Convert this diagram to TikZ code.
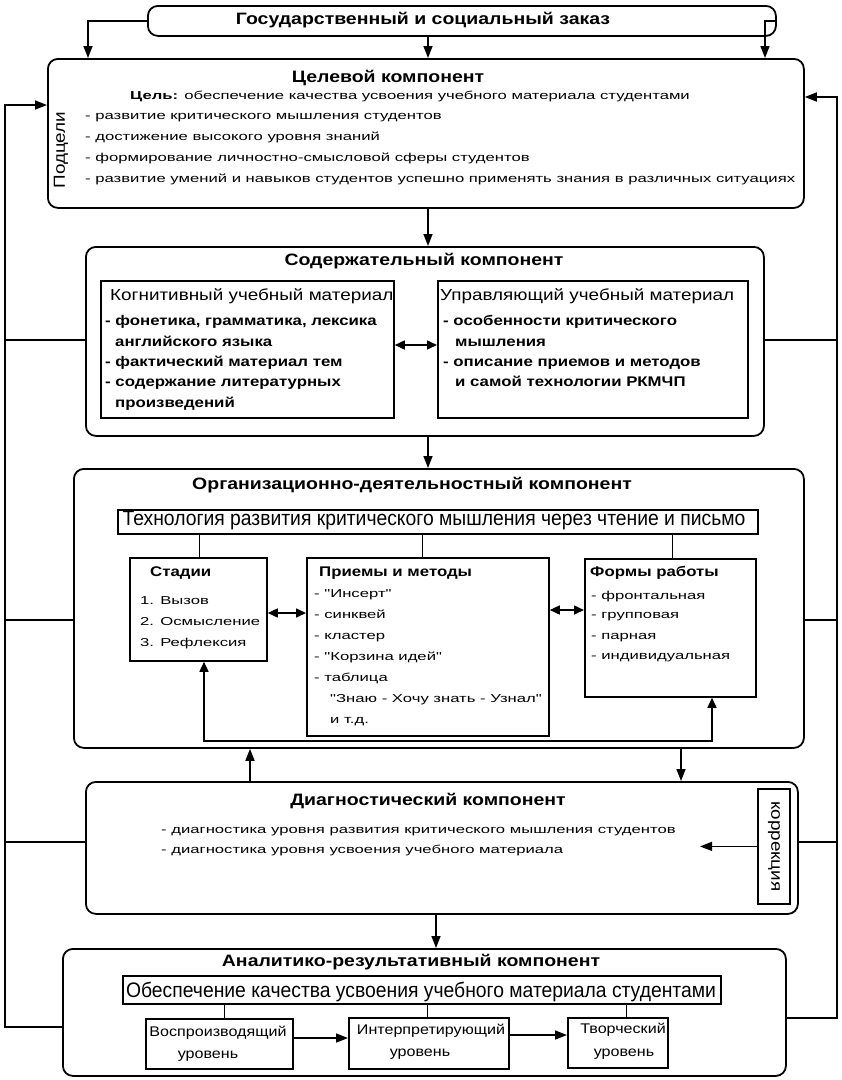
\documentclass[tikz,border=0pt]{standalone}
\usepackage{fontspec}
\setmainfont{Liberation Sans}
\newfontfamily\fBody{Liberation Sans}[FakeStretch=1.45, Ligatures=TeXOff]
\newfontfamily\fBold{Liberation Sans}[FakeStretch=1.2, Ligatures=TeXOff]
\newfontfamily\fHead{Liberation Sans}[FakeStretch=1.18, Ligatures=TeXOff]
\newfontfamily\fTall{Liberation Sans}[FakeStretch=0.92, Ligatures=TeXOff]
\newfontfamily\fLev{Liberation Sans}[FakeStretch=1.15, Ligatures=TeXOff]
\usetikzlibrary{arrows.meta,calc}
\newcommand{\sBody}{\fBody\fontsize{11.5}{14}\selectfont}
\newcommand{\sBold}{\fBold\fontsize{14}{17}\selectfont\bfseries}
\newcommand{\sTitle}{\fHead\fontsize{16.5}{20}\selectfont\bfseries}
\newcommand{\sHead}{\fHead\fontsize{16}{19}\selectfont}
\newcommand{\sTall}{\fTall\fontsize{21}{24}\selectfont}
\newcommand{\sLev}{\fLev\fontsize{14}{17}\selectfont}
\tikzset{
  comp/.style={draw, line width=1.8pt, rounded corners=10pt, anchor=north west, inner sep=0pt},
  ibox/.style={draw, line width=1.8pt, anchor=north west, inner sep=0pt},
  thinl/.style={line width=1pt},
  fb/.style={line width=1.6pt},
  arr/.style={-{Triangle[length=12pt,width=9pt]}, line width=1.6pt},
  darr/.style={{Triangle[length=10pt,width=9pt]}-{Triangle[length=10pt,width=9pt]}, line width=1.6pt},
  txt/.style={anchor=base west, inner sep=0pt, font=\sBody},
  btxt/.style={anchor=base west, inner sep=0pt, font=\sBold},
  htxt/.style={anchor=base west, inner sep=0pt, font=\sHead},
  ttl/.style={anchor=base, inner sep=0pt, font=\sTitle},
  ltxt/.style={anchor=base, inner sep=0pt, font=\sLev},
}
\begin{document}
\begin{tikzpicture}[x=1pt,y=-1pt]
\useasboundingbox (0,0) rectangle (842,1080);
% boxes
\node[comp, minimum width=628pt, minimum height=30pt] (top) at (147,5) {};
\node[comp, minimum width=756pt, minimum height=149pt] (target) at (47,58) {};
\node[comp, minimum width=678pt, minimum height=189pt] (content) at (85,246) {};
\node[ibox, minimum width=293pt, minimum height=137pt] (cog) at (100,280) {};
\node[ibox, minimum width=310pt, minimum height=137pt] (ctrl) at (437,280) {};
\node[comp, minimum width=730pt, minimum height=279pt] (org) at (73,468) {};
\node[ibox, minimum width=640pt, minimum height=24pt] (tech) at (117,509) {};
\node[ibox, minimum width=137pt, minimum height=103pt] (stages) at (129,557) {};
\node[ibox, minimum width=242pt, minimum height=178pt] (methods) at (306,557) {};
\node[ibox, minimum width=171pt, minimum height=138pt] (forms) at (584,558) {};
\node[comp, minimum width=712pt, minimum height=132pt] (diag) at (85,781) {};
\node[ibox, minimum width=32pt, minimum height=115pt] (korr) at (757,788) {};
\node[comp, minimum width=723pt, minimum height=127pt] (anal) at (62,948) {};
\node[ibox, minimum width=598pt, minimum height=28pt] (qual) at (122,975) {};
\node[ibox, minimum width=147pt, minimum height=50pt] (lev1) at (145,1018) {};
\node[ibox, minimum width=160pt, minimum height=51pt] (lev2) at (348,1017) {};
\node[ibox, minimum width=100pt, minimum height=50pt] (lev3) at (567,1017) {};

% texts
\node[ttl] (t0) at (423,24.5) {Государственный и социальный заказ};
\node[ttl] (t1) at (388,82) {Целевой компонент};
\node[txt] (g0) at (130,99.5) {\textbf{Цель:} обеспечение качества усвоения учебного материала студентами};
\node[txt] (g1) at (85,119) {- развитие критического мышления студентов};
\node[txt] (g2) at (85,140) {- достижение высокого уровня знаний};
\node[txt] (g3) at (85,161) {- формирование личностно-смысловой сферы студентов};
\node[txt] (g4) at (85,182) {- развитие умений и навыков студентов успешно применять знания в различных ситуациях};
\node[inner sep=0pt, font=\sHead, rotate=90] (podc) at (61,150) {Подцели};

\node[ttl] (t2) at (424,265.5) {Содержательный компонент};
\node[htxt] (c0) at (110,300) {Когнитивный учебный материал};
\node[btxt] (c1) at (105,325.5) {- фонетика, грамматика, лексика};
\node[btxt] (c2) at (115,346) {английского языка};
\node[btxt] (c3) at (105,366.5) {- фактический материал тем};
\node[btxt] (c4) at (105,386.5) {- содержание литературных};
\node[btxt] (c5) at (115,407) {произведений};
\node[htxt] (d0) at (440,300) {Управляющий учебный материал};
\node[btxt] (d1) at (443,325.5) {- особенности критического};
\node[btxt] (d2) at (455,346) {мышления};
\node[btxt] (d3) at (443,366.5) {- описание приемов и методов};
\node[btxt] (d4) at (455,386.5) {и самой технологии РКМЧП};

\node[ttl] (t3) at (412,489) {Организационно-деятельностный компонент};
\node[anchor=base, font=\sTall, inner sep=0pt] (tt) at (434,525) {Технология развития критического мышления через чтение и письмо};
\node[btxt] (s0) at (150,576) {Стадии};
\node[txt] (s1) at (140,604) {1. Вызов};
\node[txt] (s2) at (140,625) {2. Осмысление};
\node[txt] (s3) at (140,646) {3. Рефлексия};
\node[btxt] (m0) at (319,576) {Приемы и методы};
\node[txt] (m1) at (314,597) {- "Инсерт"};
\node[txt] (m2) at (314,618) {- синквей};
\node[txt] (m3) at (314,639) {- кластер};
\node[txt] (m4) at (314,660) {- "Корзина идей"};
\node[txt] (m5) at (314,681) {- таблица};
\node[txt] (m6) at (330,702) {"Знаю - Хочу знать - Узнал"};
\node[txt] (m7) at (330,723) {и т.д.};
\node[btxt] (f0) at (590,576.5) {Формы работы};
\node[txt] (f1) at (591,599) {- фронтальная};
\node[txt] (f2) at (591,618.5) {- групповая};
\node[txt] (f3) at (591,639) {- парная};
\node[txt] (f4) at (591,659) {- индивидуальная};

\node[ttl] (t4) at (428,805) {Диагностический компонент};
\node[txt] (x1) at (161,833) {- диагностика уровня развития критического мышления студентов};
\node[txt] (x2) at (161,853.5) {- диагностика уровня усвоения учебного материала};
\node[inner sep=0pt, font=\sHead, rotate=-90] (kt) at (korr.center) {коррекция};

\node[ttl] (t5) at (411,966.5) {Аналитико-результативный компонент};
\node[anchor=base, font=\sTall, inner sep=0pt] (qt) at (421,997) {Обеспечение качества усвоения учебного материала студентами};
\node[ltxt] (l1a) at (218,1036.5) {Воспроизводящий};
\node[ltxt] (l1b) at (208,1058) {уровень};
\node[ltxt] (l2a) at (431,1034.5) {Интерпретирующий};
\node[ltxt] (l2b) at (420,1056.5) {уровень};
\node[ltxt] (l3a) at (623,1033) {Творческий};
\node[ltxt] (l3b) at (624,1056.5) {уровень};

% helper coordinates
\coordinate (gl) at (88,0);
\coordinate (gc) at (428,0);
\coordinate (gr) at (765,0);
\coordinate (od) at (681,0);
\coordinate (du) at (250,0);
\coordinate (da) at (436,0);
\coordinate (ycc) at (0,345);
\coordinate (ysm) at (0,613);
\coordinate (ymf) at (0,610);
\coordinate (x199) at (199,0);
\coordinate (x422) at (422,0);
\coordinate (x672) at (672,0);
\coordinate (lp1) at (204,741);
\coordinate (lp2) at (712,741);
\coordinate (kend) at (700,0);
\coordinate (x224) at (224,0);
\coordinate (x427) at (427,0);
\coordinate (x626) at (626,0);
\coordinate (yl12) at (0,1038);
\coordinate (yl23) at (0,1035);
\coordinate (fl) at (5,0);
\coordinate (fr) at (837,0);
\coordinate (ytl) at (0,105);
\coordinate (ytr) at (0,97);
\coordinate (yal) at (0,1027);
\coordinate (yar) at (0,1018);
\coordinate (y1) at (0,340);
\coordinate (y2) at (0,620);
\coordinate (y3) at (0,842);

% connectors
\draw[arr] (top.west) -| (target.north -| gl);
\draw[arr] (top.south -| gc) -- (target.north -| gc);
\draw[arr] (top.east) -| (target.north -| gr);
\draw[arr] (target.south -| gc) -- (content.north -| gc);
\draw[arr] (content.south -| gc) -- (org.north -| gc);
\draw[arr] (org.south -| od) -- (diag.north -| od);
\draw[arr] (diag.north -| du) -- (org.south -| du);
\draw[arr] (diag.south -| da) -- (anal.north -| da);
\draw[darr] (cog.east |- ycc) -- (ctrl.west |- ycc);
\draw[darr] (stages.east |- ysm) -- (methods.west |- ysm);
\draw[darr] (methods.east |- ymf) -- (forms.west |- ymf);
\draw[thinl] (tech.south -| x199) -- (stages.north -| x199);
\draw[thinl] (tech.south -| x422) -- (methods.north -| x422);
\draw[thinl] (tech.south -| x672) -- (forms.north -| x672);
\draw[darr] (stages.south -| lp1) -- (lp1) -- (lp2) -- (forms.south -| lp2);
\draw[arr] (korr.west) -- (korr.west -| kend);
\draw[thinl] (qual.south -| x224) -- (lev1.north -| x224);
\draw[thinl] (qual.south -| x427) -- (lev2.north -| x427);
\draw[thinl] (qual.south -| x626) -- (lev3.north -| x626);
\draw[arr] (lev1.east |- yl12) -- (lev2.west |- yl12);
\draw[arr] (lev2.east |- yl23) -- (lev3.west |- yl23);
% feedback lines
\draw[arr] (anal.west |- yal) -| (fl |- ytl) -- (target.west |- ytl);
\draw[arr] (anal.east |- yar) -| (fr |- ytr) -- (target.east |- ytr);
\draw[fb] (fl |- y1) -- (content.west |- y1);
\draw[fb] (fl |- y2) -- (org.west |- y2);
\draw[fb] (fl |- y3) -- (diag.west |- y3);
\draw[fb] (fr |- y1) -- (content.east |- y1);
\draw[fb] (fr |- y2) -- (org.east |- y2);
\draw[fb] (fr |- y3) -- (diag.east |- y3);
\end{tikzpicture}
\end{document}
